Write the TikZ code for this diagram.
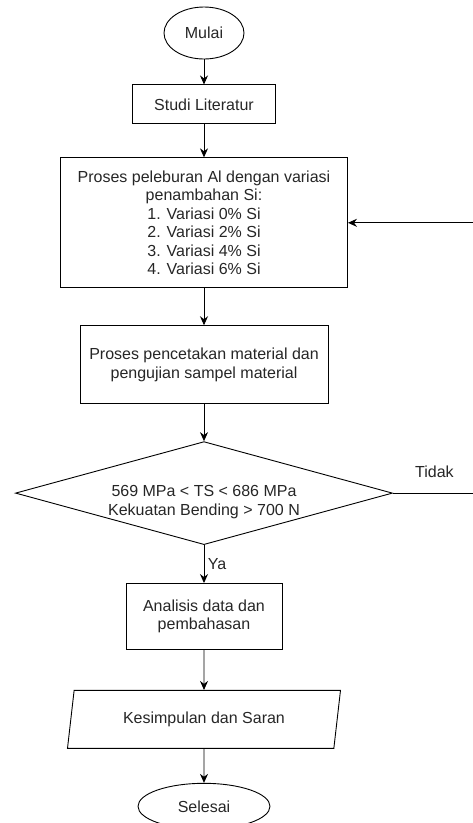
\documentclass[tikz,border=0pt]{standalone}
\usepackage{fontspec}
\setmainfont{Liberation Sans}
\usetikzlibrary{arrows.meta}
\usetikzlibrary{positioning, shapes.geometric}

\tikzset{
  terminal/.style={ellipse,draw,line width=0.9pt,inner sep=0pt},
  process/.style={rectangle,draw,line width=0.9pt,align=center,inner sep=0pt},
  decision/.style={diamond,draw,line width=0.9pt,align=center,inner sep=0pt,
    shape aspect=3.66,minimum width=377pt,minimum height=103pt},
  io/.style={trapezium,draw,line width=0.9pt,inner sep=0pt,
    trapezium left angle=66,trapezium right angle=114,trapezium stretches body,
    minimum width=273pt,minimum height=58pt},
  flow/.style={draw,line width=0.9pt,-{Stealth[length=9pt,width=8pt]}}
}

\begin{document}
\begin{tikzpicture}[x=1pt,y=1pt,font=\fontsize{16}{18.4}\selectfont,text=black!85]
  \useasboundingbox (0,0) rectangle (472,-823);

  % Steps
  \node[terminal,minimum width=80pt,minimum height=52pt] (mulai) at (204,-33) {Mulai};
  \node[process,below=25pt of mulai,minimum width=143pt,minimum height=39pt] (studi) {Studi Literatur};
  \node[process,below=33pt of studi,minimum width=287pt,minimum height=130pt] (lebur)
    {Proses peleburan Al dengan variasi\\penambahan Si:\\1. Variasi 0\% Si\\2. Variasi 2\% Si\\3. Variasi 4\% Si\\4. Variasi 6\% Si};
  \node[process,below=37pt of lebur,minimum width=248pt,minimum height=78pt] (cetak)
    {Proses pencetakan material dan\\pengujian sampel material};
  \node[decision,below=37pt of cetak,
    label={[align=center,yshift=-9pt]center:569 MPa < TS < 686 MPa\\Kekuatan Bending > 700 N}] (cek) {};
  \node[process,below=38pt of cek,minimum width=156pt,minimum height=66pt] (analisis)
    {Analisis data dan\\pembahasan};
  \node[io,below=40pt of analisis] (simpulan) {Kesimpulan dan Saran};
  \node[terminal,below=34pt of simpulan,minimum width=132pt,minimum height=46pt] (selesai) {Selesai};

  % Flow
  \path[flow] (mulai) -- (studi);
  \path[flow] (studi) -- (lebur);
  \path[flow] (lebur) -- (cetak);
  \path[flow] (cetak) -- (cek);
  \path[flow] (cek) -- node[right] {Ya} (analisis);
  \path[flow] (analisis) -- (simpulan);
  \path[flow] (simpulan) -- (selesai);

  % Back to the melting step when the test fails
  \coordinate (tepi) at (476,0);
  \path[flow] (cek.east) -- node[above=12pt] {Tidak} (cek.east -| tepi) |- (lebur.east);
\end{tikzpicture}
\end{document}
